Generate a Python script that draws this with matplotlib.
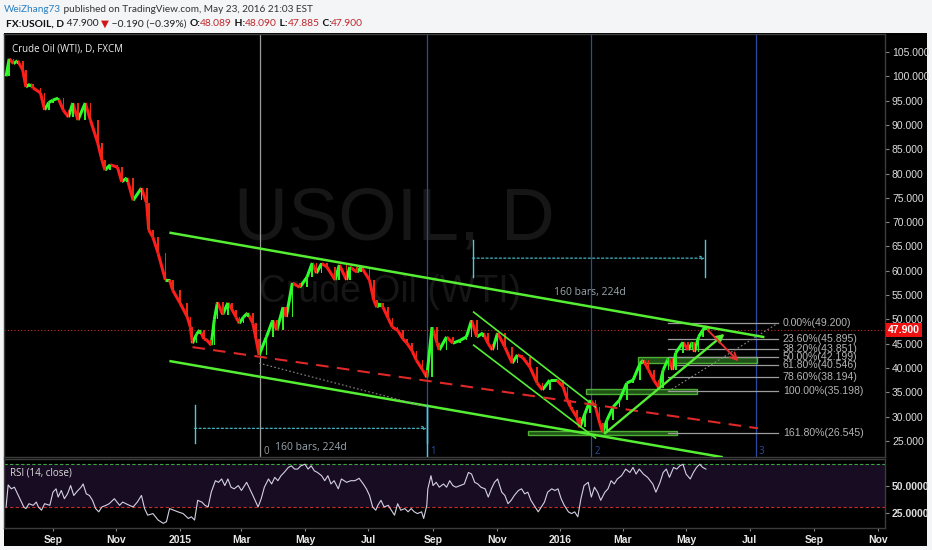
import numpy as np
import pandas as pd
import matplotlib
matplotlib.use('Agg')
import matplotlib.pyplot as plt
import matplotlib.dates as mdates
from matplotlib.collections import LineCollection
from matplotlib.patches import Rectangle
from matplotlib.ticker import FuncFormatter, FixedLocator

plt.rcParams['font.family'] = ['Open Sans', 'DejaVu Sans']

# closes, every few days
price_dates = ['2014-07-18', '2014-07-21', '2014-07-25', '2014-07-29', '2014-08-03', '2014-08-06',
               '2014-08-10', '2014-08-13', '2014-08-20', '2014-08-24', '2014-08-28', '2014-09-01',
               '2014-09-06', '2014-09-11', '2014-09-16', '2014-09-20', '2014-09-25', '2014-10-02',
               '2014-10-07', '2014-10-14', '2014-10-18', '2014-10-21', '2014-10-26', '2014-11-02',
               '2014-11-06', '2014-11-11', '2014-11-17', '2014-11-25', '2014-11-30', '2014-12-02',
               '2014-12-06', '2014-12-11', '2014-12-18', '2014-12-22', '2014-12-25', '2015-01-01',
               '2015-01-08', '2015-01-11', '2015-01-13', '2015-01-17', '2015-01-20', '2015-01-24',
               '2015-01-27', '2015-01-31', '2015-02-03', '2015-02-06', '2015-02-11', '2015-02-16',
               '2015-02-20', '2015-02-24', '2015-02-27', '2015-03-03', '2015-03-07', '2015-03-12',
               '2015-03-15', '2015-03-18', '2015-03-25', '2015-03-31', '2015-04-04', '2015-04-10',
               '2015-04-13', '2015-04-19', '2015-04-26', '2015-05-03', '2015-05-08', '2015-05-12',
               '2015-05-17', '2015-05-22', '2015-05-30', '2015-06-03', '2015-06-10', '2015-06-13',
               '2015-06-20', '2015-06-24', '2015-07-02', '2015-07-06', '2015-07-09', '2015-07-12',
               '2015-07-15', '2015-07-20', '2015-07-24', '2015-07-29', '2015-08-03', '2015-08-07',
               '2015-08-12', '2015-08-16', '2015-08-22', '2015-08-26', '2015-08-31', '2015-09-05',
               '2015-09-07', '2015-09-14', '2015-09-20', '2015-09-27', '2015-10-03', '2015-10-08',
               '2015-10-13', '2015-10-19', '2015-10-24', '2015-10-28', '2015-11-02', '2015-11-09',
               '2015-11-16', '2015-11-21', '2015-11-26', '2015-12-03', '2015-12-10', '2015-12-15',
               '2015-12-22', '2015-12-29', '2016-01-04', '2016-01-08', '2016-01-11', '2016-01-13',
               '2016-01-17', '2016-01-20', '2016-01-25', '2016-01-30', '2016-02-04', '2016-02-08',
               '2016-02-11', '2016-02-15', '2016-02-21', '2016-02-27', '2016-03-05', '2016-03-11',
               '2016-03-18', '2016-03-21', '2016-03-26', '2016-03-31', '2016-04-05', '2016-04-09',
               '2016-04-14', '2016-04-18', '2016-04-21', '2016-04-28', '2016-05-03', '2016-05-07',
               '2016-05-09', '2016-05-13', '2016-05-17', '2016-05-20', '2016-05-23']
price_close = [100.0, 103.6, 102.6, 103.2, 101.3, 97.8,
               98.4, 97.6, 96.6, 93.1, 94.6, 95.1,
               95.5, 93.0, 91.6, 94.5, 91.0, 94.5,
               91.0, 86.3, 82.8, 80.7, 81.8, 81.3,
               78.3, 79.1, 74.5, 77.0, 73.9, 68.4,
               66.9, 63.6, 58.1, 58.1, 56.0, 53.4,
               50.5, 48.4, 45.1, 47.0, 47.8, 46.0,
               45.7, 44.7, 50.0, 53.5, 51.0, 53.4,
               52.0, 50.4, 49.2, 50.5, 51.3, 49.2,
               46.0, 42.7, 46.4, 49.8, 47.8, 52.5,
               50.5, 57.5, 56.6, 58.7, 61.6, 59.5,
               61.5, 60.8, 58.1, 61.2, 58.1, 60.8,
               59.7, 60.8, 58.1, 54.0, 52.5, 53.3,
               52.5, 50.2, 48.4, 47.8, 46.0, 45.1,
               43.5, 41.6, 39.6, 38.1, 48.4, 45.1,
               43.7, 46.4, 45.1, 45.7, 46.4, 49.8,
               46.4, 47.2, 45.0, 43.7, 47.2, 44.3,
               41.0, 42.7, 42.2, 40.2, 36.9, 35.5,
               37.5, 37.5, 36.1, 33.4, 32.0, 31.3,
               29.9, 27.8, 30.7, 33.4, 32.0, 28.7,
               26.8, 29.3, 32.0, 33.4, 36.9, 37.5,
               41.0, 41.6, 39.6, 37.5, 35.9, 39.6,
               42.0, 39.6, 43.1, 45.3, 43.7, 45.3,
               43.3, 46.4, 47.8, 48.6, 47.9]

rsi_dates = ['2014-07-18', '2014-07-20', '2014-07-23', '2014-07-26', '2014-07-29', '2014-08-01',
             '2014-08-04', '2014-08-06', '2014-08-09', '2014-08-13', '2014-08-16', '2014-08-18',
             '2014-08-21', '2014-08-24', '2014-08-29', '2014-09-01', '2014-09-04', '2014-09-06',
             '2014-09-09', '2014-09-12', '2014-09-15', '2014-09-18', '2014-09-21', '2014-09-25',
             '2014-09-28', '2014-09-30', '2014-10-03', '2014-10-06', '2014-10-09', '2014-10-12',
             '2014-10-15', '2014-10-18', '2014-10-22', '2014-10-25', '2014-10-30', '2014-11-04',
             '2014-11-07', '2014-11-12', '2014-11-17', '2014-11-21', '2014-11-25', '2014-11-28',
             '2014-12-01', '2014-12-06', '2014-12-11', '2014-12-16', '2014-12-19', '2014-12-22',
             '2014-12-26', '2014-12-30', '2015-01-04', '2015-01-09', '2015-01-12', '2015-01-15',
             '2015-01-18', '2015-01-22', '2015-01-25', '2015-01-28', '2015-01-31', '2015-02-04',
             '2015-02-07', '2015-02-10', '2015-02-13', '2015-02-16', '2015-02-19', '2015-02-22',
             '2015-02-26', '2015-03-01', '2015-03-06', '2015-03-12', '2015-03-17', '2015-03-20',
             '2015-03-23', '2015-03-27', '2015-03-30', '2015-04-02', '2015-04-05', '2015-04-08',
             '2015-04-11', '2015-04-15', '2015-04-18', '2015-04-21', '2015-04-24', '2015-04-27',
             '2015-05-01', '2015-05-04', '2015-05-07', '2015-05-10', '2015-05-13', '2015-05-17',
             '2015-05-20', '2015-05-23', '2015-05-26', '2015-05-29', '2015-06-02', '2015-06-05',
             '2015-06-10', '2015-06-14', '2015-06-18', '2015-06-22', '2015-06-26', '2015-06-29',
             '2015-07-02', '2015-07-05', '2015-07-08', '2015-07-10', '2015-07-13', '2015-07-16',
             '2015-07-20', '2015-07-23', '2015-07-26', '2015-07-29', '2015-08-01', '2015-08-05',
             '2015-08-08', '2015-08-11', '2015-08-14', '2015-08-17', '2015-08-21', '2015-08-23',
             '2015-08-26', '2015-08-27', '2015-08-30', '2015-09-01', '2015-09-04', '2015-09-07',
             '2015-09-11', '2015-09-14', '2015-09-17', '2015-09-20', '2015-09-23', '2015-09-27',
             '2015-10-01', '2015-10-05', '2015-10-08', '2015-10-11', '2015-10-14', '2015-10-17',
             '2015-10-21', '2015-10-24', '2015-10-27', '2015-10-30', '2015-11-02', '2015-11-06',
             '2015-11-09', '2015-11-12', '2015-11-15', '2015-11-18', '2015-11-22', '2015-11-25',
             '2015-11-28', '2015-12-01', '2015-12-04', '2015-12-08', '2015-12-11', '2015-12-14',
             '2015-12-17', '2015-12-20', '2015-12-24', '2015-12-27', '2015-12-30', '2016-01-02',
             '2016-01-05', '2016-01-09', '2016-01-12', '2016-01-15', '2016-01-18', '2016-01-21',
             '2016-01-24', '2016-01-28', '2016-01-31', '2016-02-03', '2016-02-06', '2016-02-09',
             '2016-02-13', '2016-02-16', '2016-02-19', '2016-02-22', '2016-02-25', '2016-02-29',
             '2016-03-04', '2016-03-08', '2016-03-11', '2016-03-14', '2016-03-17', '2016-03-21',
             '2016-03-25', '2016-03-30', '2016-04-02', '2016-04-06', '2016-04-09', '2016-04-12',
             '2016-04-15', '2016-04-19', '2016-04-22', '2016-04-25', '2016-04-28', '2016-05-01',
             '2016-05-05', '2016-05-08', '2016-05-11', '2016-05-14', '2016-05-17', '2016-05-20']
rsi_vals = [30.3, 50.6, 47.0, 48.5, 42.4, 36.4,
            30.3, 28.8, 33.3, 31.8, 34.8, 30.3,
            27.3, 33.3, 31.8, 43.9, 47.0, 39.4,
            45.5, 37.9, 42.4, 50.0, 40.9, 45.5,
            48.5, 51.5, 42.4, 40.9, 36.4, 28.8,
            25.8, 30.3, 31.8, 33.3, 37.9, 31.8,
            34.8, 32.4, 30.3, 34.8, 40.9, 28.8,
            22.7, 24.2, 18.2, 15.2, 16.7, 28.8,
            27.3, 25.8, 24.2, 19.7, 21.2, 18.2,
            36.4, 34.8, 31.8, 30.3, 43.9, 54.5,
            53.0, 56.1, 50.0, 56.1, 48.5, 47.0,
            50.0, 45.5, 53.0, 40.9, 30.3, 37.9,
            48.5, 56.1, 51.5, 57.6, 54.5, 59.1,
            62.1, 66.7, 68.2, 65.2, 65.2, 68.2,
            69.7, 65.2, 68.2, 63.6, 62.1, 59.1,
            54.5, 59.1, 51.5, 54.5, 47.0, 56.1,
            53.0, 54.5, 54.5, 56.7, 51.5, 47.0,
            40.9, 30.3, 27.3, 31.8, 36.4, 30.3,
            31.8, 27.3, 22.7, 33.3, 27.3, 28.8,
            25.8, 28.8, 25.8, 24.2, 25.8, 19.7,
            31.8, 47.0, 59.1, 50.0, 53.0, 48.5,
            51.5, 48.5, 54.5, 50.0, 48.5, 50.0,
            51.5, 62.1, 60.6, 53.0, 51.5, 48.5,
            47.0, 39.4, 47.0, 53.0, 56.1, 43.9,
            40.9, 33.3, 36.4, 40.9, 45.5, 47.0,
            42.4, 43.9, 36.4, 30.3, 25.8, 30.3,
            34.8, 43.9, 47.0, 45.5, 47.0, 37.9,
            31.8, 25.8, 24.2, 25.8, 21.2, 37.9,
            50.0, 53.0, 39.4, 48.5, 43.9, 36.4,
            43.9, 47.0, 54.5, 51.5, 56.1, 59.1,
            65.2, 62.1, 66.7, 60.6, 65.2, 60.6,
            57.6, 51.5, 43.9, 53.0, 62.1, 65.2,
            57.6, 66.7, 65.2, 68.2, 69.7, 60.6,
            56.1, 62.1, 66.7, 69.7, 66.7, 65.2]

last_price = 47.900
fib_levels = [49.200, 45.895, 43.851, 42.199, 40.546, 38.194, 35.198, 26.545]
fib_pcts = ['0.00%', '23.60%', '38.20%', '50.00%', '61.80%', '78.60%', '100.00%', '161.80%']
fib_start, fib_end = '2016-04-14', '2016-07-28'

# fibonacci time zones 0..3
time_zones = ['2015-03-19', '2015-08-26', '2016-01-31', '2016-07-07']

# support boxes: (start, end, low, high)
boxes = [('2016-03-16', '2016-07-08', 41.0, 42.2),
         ('2016-01-26', '2016-05-11', 34.6, 35.7),
         ('2015-12-01', '2016-04-22', 26.2, 27.0)]

# trend lines: (date0, price0, date1, price1)
chan_upper = ('2014-12-23', 67.8, '2016-07-14', 46.4)
chan_lower = ('2014-12-23', 41.4, '2016-06-04', 21.7)
red_dash = ('2015-01-13', 44.3, '2016-07-09', 27.6)
gray_dot = ('2015-03-18', 41.0, '2015-08-26', 32.0)
fall_upper = ('2015-10-10', 51.5, '2016-02-04', 32.0)
fall_lower = ('2015-10-10', 44.7, '2016-02-04', 25.6)
rise_arrow = ('2016-02-11', 26.2, '2016-06-09', 47.4)
drop_arrow = ('2016-05-20', 48.2, '2016-06-22', 41.0)

# date range tools: (start, end, level, top, bottom, label date, label price)
ranges = [('2015-01-15', '2015-08-26', 27.6, 32.4, 24.5, '2015-05-07', 23.7),
          ('2015-10-09', '2016-05-19', 62.6, 66.3, 58.7, '2016-01-30', 55.5)]


def dn(s):
    return mdates.date2num(pd.Timestamp(s))


W, H = 932, 550
fig = plt.figure(figsize=(W / 100, H / 100), dpi=100, facecolor='#f3f5f7')
fig.patches.append(Rectangle((4 / W, 1 - 546 / H), 923 / W, 513 / H, transform=fig.transFigure,
                             facecolor='black', edgecolor='none', zorder=-10))

ax = fig.add_axes([4 / W, 1 - 457 / H, 881 / W, 423 / H], facecolor='black')
rax = fig.add_axes([4 / W, 1 - 528 / H, 881 / W, 69 / H], facecolor='black', sharex=ax)

for a in (ax, rax):
    for sp in a.spines.values():
        sp.set_color('#3c3c3c')
        sp.set_linewidth(1.0)

# watermark
ax.text(dn('2015-07-26'), 70.4, 'USOIL, D', family='Liberation Sans', fontsize=54,
        color='#161616', ha='center', va='center', zorder=1)
ax.text(dn('2015-07-22'), 55.6, 'Crude Oil (WTI)', family='Liberation Sans', fontsize=27,
        color='#161616', ha='center', va='center', zorder=1)

# price path drawn as candle-coloured segments
d = mdates.date2num(pd.to_datetime(price_dates))
c = np.array(price_close)
segs = np.stack([np.column_stack([d[:-1], c[:-1]]), np.column_stack([d[1:], c[1:]])], axis=1)
up = c[1:] >= c[:-1]
ax.add_collection(LineCollection(segs, colors=np.where(up, '#2cff2c', '#ff1c1c'),
                                 linewidths=2.2, capstyle='butt', zorder=4))
# candle bodies on top of the path
ax.bar(d[1:], np.abs(c[1:] - c[:-1]), bottom=np.minimum(c[1:], c[:-1]), width=1.6,
       color=np.where(up, '#33ee22', '#e82a10'), edgecolor='none', zorder=4)

# last price line
ax.axhline(last_price, color='#c42b2b', lw=0.8, ls=(0, (1, 2)), zorder=2)

# time zones
for i, t in enumerate(time_zones):
    col = '#9a9a9a' if i == 0 else '#2c4aa0'
    ax.axvline(dn(t), color=col, lw=0.9, zorder=2)
    ax.text(dn(t) + 3, 22.9, str(i), color=col, fontsize=7, va='center', ha='left')


def seg(line, **kw):
    ax.plot([dn(line[0]), dn(line[2])], [line[1], line[3]], **kw)


seg(chan_upper, color='#55ee33', lw=1.8, zorder=5)
seg(chan_lower, color='#55ee33', lw=1.8, zorder=5)
seg(fall_upper, color='#55ee33', lw=1.2, zorder=5)
seg(fall_lower, color='#55ee33', lw=1.2, zorder=5)
seg(red_dash, color='#e02828', lw=1.5, ls=(0, (6, 4)), zorder=5)
seg(gray_dot, color='#8a8a8a', lw=0.8, ls=(0, (1.5, 2)), zorder=5)

for r0, r1, lo, hi in boxes:
    ax.add_patch(Rectangle((dn(r0), lo), dn(r1) - dn(r0), hi - lo, facecolor='#2a6e1f',
                           edgecolor='#66dd44', lw=1.0, alpha=0.75, zorder=3))

# fibonacci retracement
for lvl, pct in zip(fib_levels, fib_pcts):
    ax.plot([dn(fib_start), dn(fib_end)], [lvl, lvl], color='#9c9c9c', lw=0.9, zorder=3)
    ax.text(dn(fib_end) + 5, lvl, f'{pct}({lvl:.3f})', color='#b4b4b4', fontsize=7.6,
            family=['Liberation Sans', 'DejaVu Sans'], va='center', ha='left', zorder=6)
ax.plot([dn(fib_start), dn(fib_end)], [fib_levels[-2], fib_levels[0]], color='#8a8a8a',
        lw=0.8, ls=(0, (1.5, 2)), zorder=3)

ax.annotate('', xy=(dn(rise_arrow[2]), rise_arrow[3]), xytext=(dn(rise_arrow[0]), rise_arrow[1]),
            arrowprops=dict(arrowstyle='->', color='#55ee33', lw=1.7, mutation_scale=12), zorder=6)
ax.annotate('', xy=(dn(drop_arrow[2]), drop_arrow[3]), xytext=(dn(drop_arrow[0]), drop_arrow[1]),
            arrowprops=dict(arrowstyle='->', color='#e83030', lw=1.4, mutation_scale=12), zorder=6)

# date ranges
for r0, r1, lvl, top, bot, ld, lp in ranges:
    ax.plot([dn(r0), dn(r0)], [bot, top], color='#4fc8d8', lw=1.0, zorder=5)
    ax.plot([dn(r1), dn(r1)], [bot, top], color='#4fc8d8', lw=1.0, zorder=5)
    ax.annotate('', xy=(dn(r1), lvl), xytext=(dn(r0), lvl),
                arrowprops=dict(arrowstyle='->', color='#4fc8d8', lw=0.8, ls=(0, (2, 2)),
                                mutation_scale=7, shrinkA=0, shrinkB=0), zorder=5)
    ax.text(dn(ld), lp, '160 bars, 224d', color='#9aa6ae', fontsize=7.5, ha='center', va='center')
ax.plot([dn(ranges[0][1])] * 2, [21.7, 32.4], color='#4fc8d8', lw=1.0, zorder=5)

ax.text(0.009, 0.964, 'Crude Oil (WTI), D, FXCM', transform=ax.transAxes, color='#eeeeee',
        fontsize=7, va='center', ha='left')

ax.set_ylim(21.7, 108.7)
ax.set_xlim(dn('2014-07-16'), dn('2016-11-08'))
ax.yaxis.tick_right()
ax.yaxis.set_major_locator(FixedLocator(np.arange(25, 106, 5)))
ax.yaxis.set_major_formatter(FuncFormatter(lambda v, p: f'{v:.3f}'))
ax.tick_params(axis='y', colors='#888888', labelcolor='#dddddd', labelsize=7.5, length=3, pad=2)
ax.tick_params(axis='x', bottom=False, labelbottom=False)
for lb in ax.get_yticklabels():
    lb.set_family(['Liberation Sans Narrow', 'Liberation Sans'])

ax.text(1.003, last_price, f'{last_price:.3f}', transform=ax.get_yaxis_transform(),
        color='white', fontsize=7.5, fontweight='bold', va='center', ha='left', zorder=10,
        family=['Liberation Sans Narrow', 'Liberation Sans'],
        bbox=dict(boxstyle='square,pad=0.2', facecolor='#ee1111', edgecolor='none'), clip_on=False)

# RSI panel
rax.axhspan(30, 70, facecolor='#170c22', zorder=0)
rax.axhline(70, color='#3aa83a', lw=0.8, ls=(0, (3, 2)))
rax.axhline(30, color='#c42b2b', lw=0.8, ls=(0, (3, 2)))
rax.plot(mdates.date2num(pd.to_datetime(rsi_dates)), rsi_vals, color='#d4d0e4', lw=0.8)
rax.set_ylim(10.9, 74.5)
rax.yaxis.tick_right()
rax.set_yticks([25, 50])
rax.set_yticklabels(['25.0000', '50.0000'])
rax.tick_params(axis='y', colors='#888888', labelcolor='#dddddd', labelsize=7.5, length=3, pad=2)
rax.text(0.007, 0.80, 'RSI (14, close)', transform=rax.transAxes, color='#dddddd',
         fontsize=7, va='center', ha='left')

rax.xaxis.set_major_locator(mdates.MonthLocator(bymonth=[1, 3, 5, 7, 9, 11]))
rax.xaxis.set_major_formatter(FuncFormatter(
    lambda v, p: str(mdates.num2date(v).year) if mdates.num2date(v).month == 1
    else mdates.num2date(v).strftime('%b')))
rax.tick_params(axis='x', colors='#888888', labelcolor='#e6e6e6', labelsize=7.5, length=2, pad=3)
for lb in rax.get_xticklabels() + rax.get_yticklabels():
    lb.set_family(['Liberation Sans Narrow', 'Liberation Sans'])
    lb.set_fontweight('bold')

# header
hax = fig.add_axes([0, 1 - 32 / H, 1, 32 / H])
hax.axis('off')
hax.set_xlim(0, W)
hax.set_ylim(32, 0)
hfont = ['Lato', 'DejaVu Sans']
t = hax.text(4, 9, 'WeiZhang73', color='#2a7fc0', fontsize=7.2, family=hfont, va='center', ha='left')
hax.annotate(' published on TradingView.com, May 23, 2016 21:03 EST', xy=(1, 0.5), xycoords=t,
             va='center', ha='left', color='#333333', fontsize=7.2, family=hfont)

parts = [('FX:USOIL, D', '#111111', 'bold'), (' 47.900 ', '#222222', 'normal'),
         ('▼', '#d01818', 'normal'), (' \u22120.190 (\u22120.39%) ', '#222222', 'normal'),
         ('O:', '#111111', 'bold'), ('48.089', '#c0272d', 'normal'),
         (' H:', '#111111', 'bold'), ('48.090', '#c0272d', 'normal'),
         (' L:', '#111111', 'bold'), ('47.885', '#c0272d', 'normal'),
         (' C:', '#111111', 'bold'), ('47.900', '#c0272d', 'normal')]
prev = None
for s, col, wt in parts:
    if prev is None:
        prev = hax.text(6, 24, s, color=col, fontweight=wt, fontsize=7.4, family=hfont,
                        va='center', ha='left')
    else:
        prev = hax.annotate(s, xy=(1, 0.5), xycoords=prev, va='center', ha='left',
                            color=col, fontweight=wt, fontsize=7.4, family=hfont)

fig.savefig('out.png', dpi=100, facecolor=fig.get_facecolor())
